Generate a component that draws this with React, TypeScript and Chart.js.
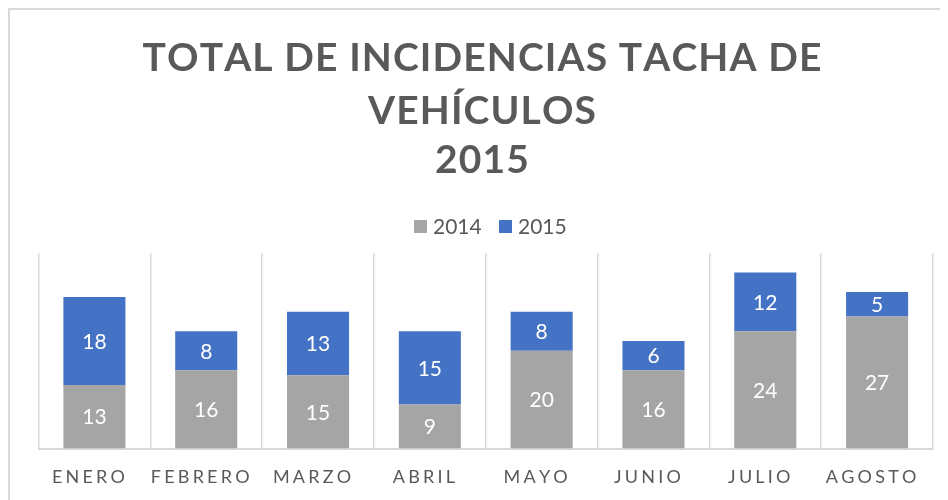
import React, { useEffect, useRef } from "react";
import { Chart, registerables } from "chart.js";

Chart.register(...registerables);

const categories = ["ENERO", "FEBRERO", "MARZO", "ABRIL", "MAYO", "JUNIO", "JULIO", "AGOSTO"];
const values2014 = [13, 16, 15, 9, 20, 16, 24, 27];
const values2015 = [18, 8, 13, 15, 8, 6, 12, 5];
const seriesLabels = ["2014", "2015"];
const seriesColors = ["#a5a5a5", "#4472c4"];
const titleLines = ["TOTAL DE INCIDENCIAS TACHA DE", "VEHÍCULOS", "2015"];
const yMin = 0;
const yMax = 40;

const FONT = "Lato, 'Open Sans', sans-serif";
const TEXT_COLOR = "#595959";

function drawSpaced(ctx: CanvasRenderingContext2D, text: string, cx: number, y: number, spacing: number) {
  const chars = Array.from(text);
  const widths = chars.map((c) => ctx.measureText(c).width);
  const total = widths.reduce((a, b) => a + b, 0) + spacing * (chars.length - 1);
  let x = cx - total / 2;
  ctx.textAlign = "left";
  chars.forEach((c, i) => {
    ctx.fillText(c, x, y);
    x += widths[i] + spacing;
  });
  return total;
}

const decorPlugin = {
  id: "decor",
  afterDatasetsDraw(chart: any) {
    const ctx: CanvasRenderingContext2D = chart.ctx;
    ctx.save();
    ctx.font = `21px ${FONT}`;
    ctx.fillStyle = "#ffffff";
    ctx.textAlign = "center";
    ctx.textBaseline = "middle";
    chart.data.datasets.forEach((ds: any, di: number) => {
      const meta = chart.getDatasetMeta(di);
      meta.data.forEach((el: any, i: number) => {
        const v = ds.data[i];
        const y = (el.y + el.base) / 2;
        ctx.fillText(String(v), el.x, y + 1);
      });
    });
    ctx.restore();
  },
  afterDraw(chart: any) {
    const ctx: CanvasRenderingContext2D = chart.ctx;
    ctx.save();
    // Title
    ctx.fillStyle = TEXT_COLOR;
    ctx.textBaseline = "alphabetic";
    ctx.font = `bold 39px ${FONT}`;
    const baselines = [61, 114, 163];
    titleLines.forEach((line, i) => {
      drawSpaced(ctx, line, 472, baselines[i], 1.1);
    });

    // Legend
    ctx.font = `21px ${FONT}`;
    const legendX = [404, 489];
    seriesLabels.forEach((lab, i) => {
      ctx.fillStyle = seriesColors[i];
      ctx.fillRect(legendX[i], 210, 13, 13);
      ctx.fillStyle = TEXT_COLOR;
      ctx.textAlign = "left";
      ctx.fillText(lab, legendX[i] + 19, 224);
    });

    // X labels
    const xs = chart.scales.x;
    ctx.font = `18px ${FONT}`;
    ctx.fillStyle = TEXT_COLOR;
    categories.forEach((c, i) => {
      const cx = xs.getPixelForValue(i) - 6;
      drawSpaced(ctx, c, cx, 473, 3.2);
    });
    ctx.restore();
  },
};

export default function App() {
  const ref = useRef<HTMLCanvasElement | null>(null);
  useEffect(() => {
    if (!ref.current) return;
    Chart.defaults.font.family = FONT;
    const chart = new Chart(ref.current, {
      type: "bar",
      data: {
        labels: categories,
        datasets: [
          {
            label: seriesLabels[0],
            data: values2014,
            backgroundColor: seriesColors[0],
            barPercentage: 0.555,
            categoryPercentage: 1,
          },
          {
            label: seriesLabels[1],
            data: values2015,
            backgroundColor: seriesColors[1],
            barPercentage: 0.555,
            categoryPercentage: 1,
          },
        ],
      },
      options: {
        animation: false,
        responsive: false,
        maintainAspectRatio: false,
        layout: { padding: { left: 28.5, right: 15, top: 243, bottom: 51.5 } },
        plugins: {
          legend: { display: false },
          title: { display: false },
          tooltip: { enabled: false },
        },
        scales: {
          x: {
            stacked: true,
            grid: { color: "#d9d9d9", lineWidth: 1.5, drawTicks: false, offset: true },
            border: { color: "#d9d9d9", width: 2 },
            ticks: { display: false },
          },
          y: { stacked: true, display: false, min: yMin, max: yMax },
        },
      },
      plugins: [decorPlugin],
    });
    return () => chart.destroy();
  }, []);
  return (
    <div
      style={{
        width: 938,
        height: 490,
        borderTop: "2px solid #d9d9d9",
        borderLeft: "2px solid #d9d9d9",
      }}
    >
      <canvas ref={ref} width={938} height={490} style={{ display: "block" }} />
    </div>
  );
}
